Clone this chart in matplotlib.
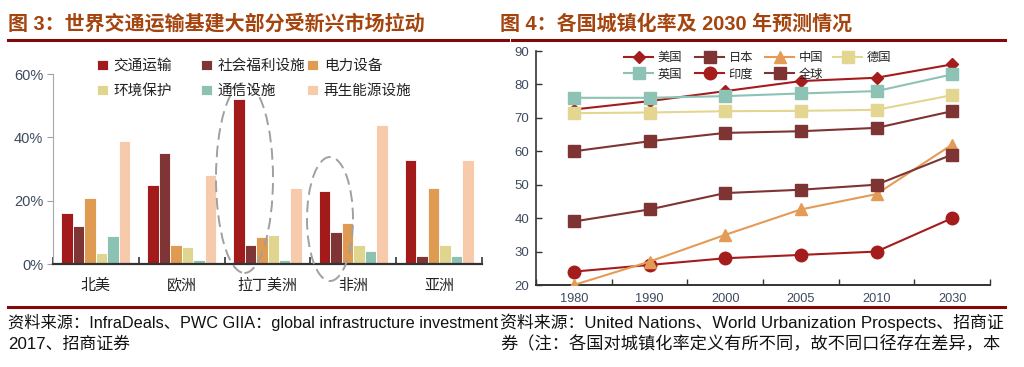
import matplotlib
matplotlib.use("Agg")
import matplotlib.pyplot as plt
from matplotlib.patches import Ellipse
from matplotlib.lines import Line2D
import numpy as np

# ---------------- data ----------------
regions = ["北美", "欧洲", "拉丁美洲", "非洲", "亚洲"]
bar_series = ["交通运输", "社会福利设施", "电力设备", "环境保护", "通信设施", "再生能源设施"]
transport = [16, 25, 52, 23, 33]
welfare = [12, 35, 6, 10, 2.5]
power = [21, 6, 8.4, 13, 24]
environment = [3.4, 5.5, 9.3, 6, 6]
telecom = [9, 1.4, 1.4, 4, 2.5]
renewable = [39, 28, 24, 44, 33]
bar_ticks = [0, 20, 40, 60]
bar_ticklabels = ["0%", "20%", "40%", "60%"]

years = ["1980", "1990", "2000", "2005", "2010", "2030"]
usa = [72.5, 75, 78, 81, 82, 86]
uk = [76, 76, 76.5, 77.3, 78, 83]
germany = [71.4, 71.6, 72, 72.1, 72.4, 76.8]
japan = [60, 63, 65.5, 66, 67, 72]
world = [39, 42.6, 47.5, 48.5, 50, 59]
china = [20, 27, 35, 42.6, 47.2, 62]
india = [24, 26, 28, 29, 30, 40]
line_ticks = [20, 30, 40, 50, 60, 70, 80, 90]

# ---------------- style ----------------
W, H = 1024, 367
CJK = "Noto Sans CJK SC"
MIX = ["Liberation Sans", CJK]
plt.rcParams["font.family"] = [CJK, "DejaVu Sans"]

fig = plt.figure(figsize=(W / 100, H / 100), dpi=100)

def fx(x):
    return x / W

def fy(y):
    return 1 - y / H

title_color = "#A4440E"
rule_color = "#7E0A0A"
tick_color = "#3E4A5E"

# titles
fig.text(fx(8), fy(24), "图 3：世界交通运输基建大部分受新兴市场拉动", fontsize=14.4,
         fontweight="bold", color=title_color, va="center", ha="left", family=MIX)
fig.text(fx(500), fy(24), "图 4：各国城镇化率及 2030 年预测情况", fontsize=14.4,
         fontweight="bold", color=title_color, va="center", ha="left", family=MIX)
fig.add_artist(Line2D([fx(8), fx(508)], [fy(40), fy(40)], color=rule_color, lw=2.2))
fig.add_artist(Line2D([fx(512), fx(1005)], [fy(40), fy(40)], color=rule_color, lw=2.2))
fig.add_artist(Line2D([fx(8), fx(1005)], [fy(307), fy(307)], color=rule_color, lw=2.2))

# footers
fig.text(fx(8), fy(322), "资料来源：InfraDeals、PWC GIIA：global infrastructure investment",
         fontsize=11.7, color="#111111", va="center", ha="left", family=MIX)
fig.text(fx(8), fy(344), "2017、招商证券", fontsize=12.2, color="#111111", va="center",
         ha="left", family=MIX)
fig.text(fx(500), fy(322), "资料来源：United Nations、World Urbanization Prospects、招商证",
         fontsize=12.2, color="#111111", va="center", ha="left", family=MIX)
fig.text(fx(500), fy(344), "券（注：各国对城镇化率定义有所不同，故不同口径存在差异，本",
         fontsize=12.4, color="#111111", va="center", ha="left", family=MIX)

# ---------------- left bar chart ----------------
ax1 = fig.add_axes([fx(53), fy(264), fx(482 - 53), (264 - 74) / H])
bar_colors = ["#A21A1A", "#7F3535", "#E09B52", "#DFD58E", "#8CC2B3", "#F8CAAC"]
values = [transport, welfare, power, environment, telecom, renewable]
x = np.arange(len(regions))
bw = 0.134
handles = []
for i, (name, vals, c) in enumerate(zip(bar_series, values, bar_colors)):
    b = ax1.bar(x + (i - 2.5) * bw, vals, width=bw, color=c, edgecolor="white",
                linewidth=0.6, label=name, zorder=2)
    handles.append(b)
ax1.set_xlim(-0.5, len(regions) - 0.5)
ax1.set_ylim(0, 60)
ax1.set_yticks(bar_ticks)
ax1.set_yticklabels(bar_ticklabels)
ax1.set_xticks(x)
ax1.set_xticklabels(regions)
ax1.set_xticks(np.arange(-0.5, len(regions)), minor=True)
ax1.tick_params(axis="x", which="major", length=0, pad=11, labelsize=10.8, labelcolor="#222222")
ax1.tick_params(axis="x", which="minor", length=5, direction="in", width=1.2, color="#333333")
ax1.tick_params(axis="y", length=4, direction="out", color="#A0A0A0", labelsize=10.5,
                labelcolor=tick_color, pad=3)
for lab in ax1.get_yticklabels():
    lab.set_family(MIX)
for s in ["top", "right"]:
    ax1.spines[s].set_visible(False)
ax1.spines["left"].set_color("#A8A8A8")
ax1.spines["bottom"].set_color("#333333")
ax1.spines["bottom"].set_linewidth(1.6)
ax1.spines["bottom"].set_zorder(3)

# legend columns (fixed positions)
leg_cols = [(97, [0, 3]), (201, [1, 4]), (307, [2, 5])]
for xl, idx in leg_cols:
    lg = fig.legend([handles[k] for k in idx], [bar_series[k] for k in idx],
                    loc="upper left", bbox_to_anchor=(fx(xl), fy(59)), frameon=False,
                    fontsize=10.5, handlelength=0.75, handleheight=0.75, handletextpad=0.4,
                    labelspacing=0.75, borderpad=0, borderaxespad=0)
    for t in lg.get_texts():
        t.set_color("#222222")

# dashed ellipses
fig.add_artist(Ellipse((fx(244.5), fy(178)), fx(57), 190 / H, fill=False,
                       edgecolor="#A0A0A0", lw=1.4, ls=(0, (6, 3)), zorder=5))
fig.add_artist(Ellipse((fx(330), fy(219)), fx(46), 124 / H, fill=False,
                       edgecolor="#A0A0A0", lw=1.4, ls=(0, (6, 3)), zorder=5))

# ---------------- right line chart ----------------
ax2 = fig.add_axes([fx(536), fy(285), fx(990 - 536), (285 - 51) / H])
xi = np.arange(len(years))
series = [
    ("美国", usa, "#A51C1C", "D", 6),
    ("英国", uk, "#8DC3B4", "s", 9),
    ("日本", japan, "#7F3434", "s", 9),
    ("印度", india, "#A51C1C", "o", 9),
    ("中国", china, "#E39B55", "^", 9),
    ("全球", world, "#7F3434", "s", 9),
    ("德国", germany, "#E2D690", "s", 9),
]
lines = {}
for name, vals, c, m, ms in series:
    ln, = ax2.plot(xi, vals, color=c, marker=m, markersize=ms, lw=1.5,
                   markeredgecolor=c, label=name, zorder=3)
    lines[name] = ln
ax2.set_xlim(-0.5, len(years) - 0.5)
ax2.set_ylim(20, 90)
ax2.set_yticks(line_ticks)
ax2.set_xticks(xi)
ax2.set_xticklabels(years)
ax2.set_xticks(np.arange(-0.5, len(years)), minor=True)
ax2.tick_params(axis="x", which="major", length=0, pad=6, labelsize=9.2, labelcolor=tick_color)
ax2.tick_params(axis="x", which="minor", length=4, direction="in", width=1, color="#333333")
ax2.tick_params(axis="y", length=4, direction="in", width=1, color="#333333",
                labelsize=9.5, labelcolor=tick_color, pad=5)
for lab in ax2.get_xticklabels() + ax2.get_yticklabels():
    lab.set_family(MIX)
for s in ["top", "right"]:
    ax2.spines[s].set_visible(False)
ax2.spines["left"].set_color("#333333")
ax2.spines["bottom"].set_color("#333333")
ax2.spines["left"].set_linewidth(1.2)
ax2.spines["bottom"].set_linewidth(1.4)

rleg = [(624, ["美国", "英国"]), (695, ["日本", "印度"]), (765, ["中国", "全球"]),
        (833, ["德国"])]
for xl, names in rleg:
    lg = fig.legend([lines[n] for n in names], names, loc="upper left",
                    bbox_to_anchor=(fx(xl), fy(51)), frameon=False, fontsize=8.8,
                    handlelength=2.4, handletextpad=0.35, labelspacing=0.3,
                    borderpad=0, borderaxespad=0)
    for t in lg.get_texts():
        t.set_color("#222222")

fig.savefig("out.png", dpi=100)
